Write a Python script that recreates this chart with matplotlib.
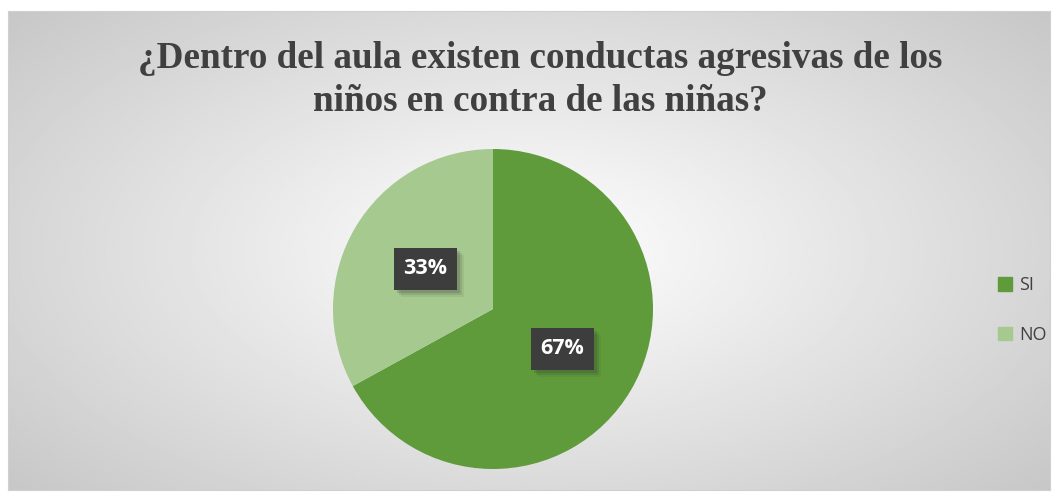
import matplotlib.pyplot as plt
import matplotlib.patches as mpatches
import numpy as np

title = "¿Dentro del aula existen conductas agresivas de los\nniños en contra de las niñas?"
labels = ["SI", "NO"]
values = [67, 33]
colors = ["#5f9b3b", "#a6c98f"]

W, H = 1057, 492
fig = plt.figure(figsize=(W / 100, H / 100), dpi=100)

# chart area background with a radial gradient
x0, y0, x1, y1 = 8, 11, 1050, 490
bg = fig.add_axes([x0 / W, 1 - y1 / H, (x1 - x0) / W, (y1 - y0) / H])
gx, gy = np.meshgrid(np.linspace(-1, 1, 400), np.linspace(-1, 1, 200))
r = np.sqrt(gx ** 2 + (gy * 0.9) ** 2)
shade = 1.0 - 0.22 * np.clip(r / 1.35, 0, 1)
bg.imshow(shade, cmap="gray", vmin=0, vmax=1, aspect="auto", extent=[0, 1, 0, 1])
bg.set_xticks([])
bg.set_yticks([])
for s in bg.spines.values():
    s.set_color("#d0d0d0")

# pie
cx, cy, rad = 493, 309, 160
ax = fig.add_axes([(cx - rad) / W, 1 - (cy + rad) / H, 2 * rad / W, 2 * rad / H])
ax.pie(values, colors=colors, startangle=90, counterclock=False,
       wedgeprops=dict(linewidth=0))
ax.set_aspect("auto")
ax.set_xlim(-1, 1)
ax.set_ylim(-1, 1)
ax.axis("off")

# data labels (dark boxes with a soft shadow)
label_pos = [(562, 349), (425, 269)]
bw, bh = 63, 42
for (px, py), v in zip(label_pos, values):
    for k, a in [(7, 0.08), (5, 0.12), (3, 0.18)]:
        fig.patches.append(mpatches.Rectangle(
            ((px - bw / 2 + k) / W, 1 - (py + bh / 2 + k) / H), bw / W, bh / H,
            transform=fig.transFigure, fc="#303030", ec="none", alpha=a))
    fig.patches.append(mpatches.Rectangle(
        ((px - bw / 2) / W, 1 - (py + bh / 2) / H), bw / W, bh / H,
        transform=fig.transFigure, fc="#3d3d3d", ec="none"))
    fig.text(px / W, 1 - py / H, f"{v}%", fontsize=15.5, fontweight="bold",
             family="Open Sans", color="white", ha="center", va="center")

# title
fig.text(540 / W, 1 - 80 / H, title, ha="center", va="center", fontsize=26.7,
         fontweight="bold", family="Liberation Serif", color="#404040",
         linespacing=1.27)

# legend
handles = [mpatches.Patch(color=c, label=l) for c, l in zip(colors, labels)]
fig.legend(handles=handles, loc="center left", bbox_to_anchor=(982 / W, 1 - 310 / H),
           frameon=False, labelspacing=1.75, handlelength=0.75,
           handleheight=0.75, handletextpad=0.4, prop={"family": "Open Sans", "size": 13})
for t in fig.legends[0].get_texts():
    t.set_color("#404040")

fig.savefig("out.png", dpi=100)
